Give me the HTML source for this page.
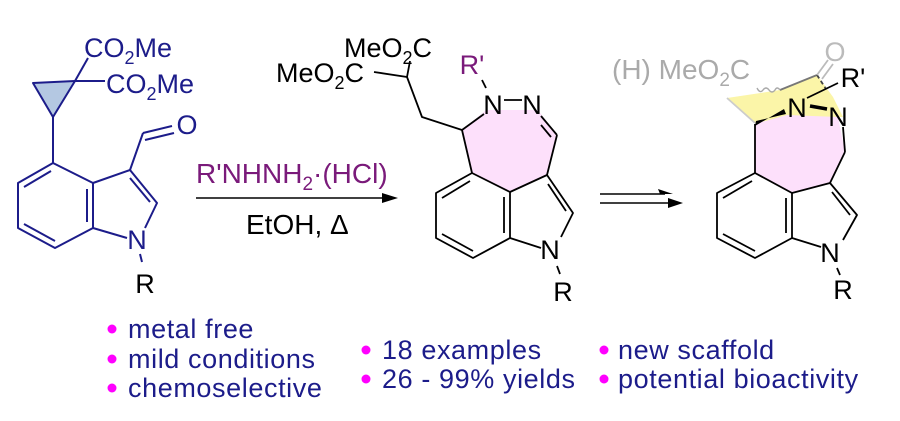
<!DOCTYPE html>
<html><head><meta charset="utf-8"><style>
html,body{margin:0;padding:0;background:#fff;width:900px;height:421px;overflow:hidden}
svg{display:block}
text{font-family:"Liberation Sans",Arial,sans-serif}
</style></head><body>
<svg width="900" height="421" viewBox="0 0 900 421" xmlns="http://www.w3.org/2000/svg">
<!-- Molecule 1 -->
<g stroke="#1c1c8a" stroke-width="2" fill="none" stroke-linejoin="round">
<polygon points="33,83 75,81 53,117" fill="#b4c8e2"/>
<line x1="75" y1="81" x2="88" y2="58"/>
<line x1="75" y1="81" x2="105" y2="81"/>
<line x1="53" y1="117" x2="53" y2="163"/>
<polygon points="53,163 18,183 18,228 55,248 93,228 93,183"/>
<line x1="24" y1="187" x2="51" y2="171"/>
<line x1="24" y1="224" x2="55" y2="241"/>
<line x1="87" y1="189" x2="87" y2="222"/>
<polyline points="93,183 130,170 157,203 145,228"/>
<line x1="130" y1="178" x2="150" y2="202"/>
<line x1="93" y1="228" x2="127" y2="238"/>
<line x1="140" y1="254" x2="142" y2="262"/>
<line x1="130" y1="170" x2="143" y2="133"/>
<line x1="143" y1="133" x2="172" y2="126"/>
<line x1="145" y1="140" x2="174" y2="133"/>
</g>
<g fill="#1c1c8a" font-size="27">
<text x="84" y="57">CO<tspan font-size="18" dy="7">2</tspan><tspan dy="-7">Me</tspan></text>
<text x="106" y="93">CO<tspan font-size="18" dy="7">2</tspan><tspan dy="-7">Me</tspan></text>
<text x="187" y="134" text-anchor="middle">O</text>
<text x="137" y="249" text-anchor="middle">N</text>
</g>
<text x="145" y="293" font-size="27" fill="#000" text-anchor="middle">R</text>

<!-- Arrow 1 -->
<line x1="196" y1="198" x2="385" y2="198" stroke="#000" stroke-width="1.6"/>
<polygon points="398,198 382,193 382,203" fill="#000"/>
<text x="196" y="183" font-size="28" fill="#7a1a7a">R'NHNH<tspan font-size="19" dy="7">2</tspan><tspan dy="-7">·(HCl)</tspan></text>
<text x="246" y="234" font-size="28" fill="#000">EtOH, Δ</text>

<!-- Molecule 2 -->
<polygon points="462,130 486,110 538,110 557,135 547,175 510,192 472,173" fill="#fde0fb"/>
<g stroke="#000" stroke-width="1.8" fill="none" stroke-linejoin="round">
<line x1="374" y1="72" x2="407" y2="77"/>
<line x1="407" y1="77" x2="410" y2="61"/>
<polyline points="407,77 422,117 462,130 484,114"/>
<line x1="504" y1="100" x2="522" y2="100"/>
<line x1="482" y1="80" x2="486" y2="88"/>
<line x1="541" y1="116" x2="557" y2="135"/>
<line x1="541" y1="125" x2="551" y2="137"/>
<line x1="557" y1="135" x2="547" y2="175"/>
<line x1="462" y1="130" x2="472" y2="173"/>
<polygon points="472,173 510,192 510,238 473,258 436,238 436,193"/>
<line x1="504" y1="197" x2="504" y2="233"/>
<line x1="442" y1="234" x2="473" y2="251"/>
<line x1="442" y1="198" x2="470" y2="181"/>
<polyline points="510,192 547,175 573,213 561,237"/>
<line x1="548" y1="184" x2="566" y2="211"/>
<line x1="510" y1="238" x2="541" y2="248"/>
<line x1="557" y1="266" x2="560" y2="274"/>
</g>
<g font-size="27" fill="#000">
<text x="344" y="57">MeO<tspan font-size="18" dy="7">2</tspan><tspan dy="-7">C</tspan></text>
<text x="276" y="82">MeO<tspan font-size="18" dy="7">2</tspan><tspan dy="-7">C</tspan></text>
<text x="493" y="114" text-anchor="middle">N</text>
<text x="532" y="114" text-anchor="middle">N</text>
<text x="550" y="259" text-anchor="middle">N</text>
<text x="563" y="301" text-anchor="middle">R</text>
</g>
<text x="472" y="74" font-size="27" fill="#7a1a7a" text-anchor="middle">R'</text>

<!-- Double arrow -->
<g stroke="#000" stroke-width="1.6">
<line x1="600" y1="194" x2="665" y2="194"/>
<line x1="600" y1="203" x2="675" y2="203"/>
</g>
<polygon points="673,194 658,189 660,194" fill="#000"/>
<polygon points="683,203 668,198 668,208" fill="#000"/>

<!-- Molecule 3 -->
<polygon points="727,98 780,90 817,75 833,97 843,117 787,117 755,123" fill="#fbf5a8"/>
<polygon points="755,124 787,115 838,117 845,152 830,183 792,193 755,173" fill="#fde0fb"/>
<g stroke="#000" stroke-width="1.8" fill="none" stroke-linejoin="round">
<line x1="727" y1="98" x2="755" y2="123" stroke="#ccc"/>
<line x1="780" y1="90" x2="817" y2="75" stroke="#777"/>
<line x1="817" y1="75" x2="826" y2="89" stroke="#444" stroke-dasharray="4,3"/>
<path d="M780,90 q-3,-4 -5,0 q-3,4 -6,0 q-3,-4 -6,0 q-3,4 -6,-2" stroke="#aaa" stroke-width="1.4"/>
<line x1="807" y1="98" x2="838" y2="83"/>
<line x1="843" y1="127" x2="845" y2="152"/>
<line x1="845" y1="152" x2="830" y2="183"/>
<line x1="755" y1="124" x2="755" y2="173"/>
<polygon points="755,173 792,193 792,238 755,258 717,238 717,193"/>
<line x1="786" y1="198" x2="786" y2="233"/>
<line x1="723" y1="234" x2="755" y2="251"/>
<line x1="723" y1="198" x2="752" y2="181"/>
<polyline points="792,193 830,183 857,215 843,240"/>
<line x1="832" y1="192" x2="850" y2="215"/>
<line x1="792" y1="238" x2="821" y2="247"/>
<line x1="837" y1="268" x2="840" y2="275"/>
</g>
<line x1="817" y1="75" x2="828" y2="60" stroke="#bbb" stroke-width="1.8"/>
<line x1="822" y1="79" x2="833" y2="64" stroke="#bbb" stroke-width="1.8"/>
<polygon points="755,126 784,109 786,114 756,121" fill="#000"/>
<line x1="810" y1="106" x2="827" y2="109" stroke="#000" stroke-width="3.5"/>
<g font-size="27" fill="#000">
<text x="853" y="87" text-anchor="middle">R'</text>
<text x="797" y="117" text-anchor="middle">N</text>
<text x="838" y="126" text-anchor="middle">N</text>
<text x="830" y="262" text-anchor="middle">N</text>
<text x="843" y="299" text-anchor="middle">R</text>
</g>
<text x="612" y="79" font-size="28" fill="#aaa">(H) MeO<tspan font-size="19" dy="7">2</tspan><tspan dy="-7">C</tspan></text>
<text x="835" y="61" font-size="27" fill="#bbb" text-anchor="middle">O</text>

<!-- Bullets -->
<g fill="#ff00ff">
<circle cx="112" cy="329" r="4.5"/><circle cx="112" cy="359" r="4.5"/><circle cx="112" cy="388" r="4.5"/>
<circle cx="366" cy="350" r="4.5"/><circle cx="366" cy="379" r="4.5"/>
<circle cx="604" cy="350" r="4.5"/><circle cx="604" cy="379" r="4.5"/>
</g>
<g fill="#1c1c8a" font-size="27" letter-spacing="0.6">
<text x="128" y="338">metal free</text>
<text x="128" y="368">mild conditions</text>
<text x="128" y="397">chemoselective</text>
<text x="382" y="359">18 examples</text>
<text x="382" y="388">26 - 99% yields</text>
<text x="618" y="359">new scaffold</text>
<text x="618" y="388">potential bioactivity</text>
</g>
</svg>
</body></html>
